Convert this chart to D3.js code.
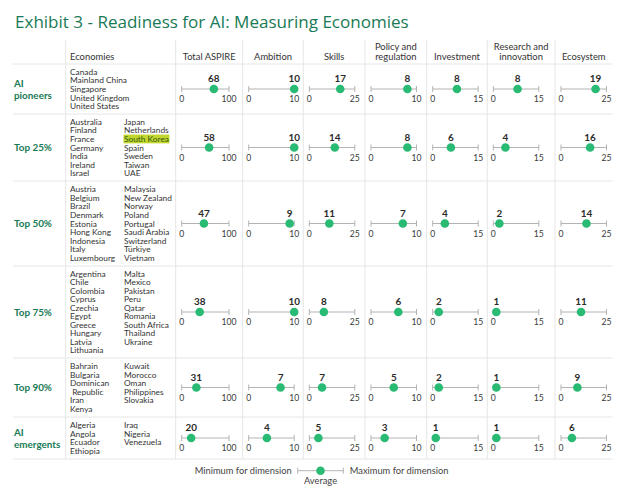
<!DOCTYPE html>
<html>
<head>
<meta charset="utf-8">
<script src="https://cdn.jsdelivr.net/npm/d3@7"></script>
<style>
  html, body { margin: 0; padding: 0; background: #fff; }
  svg { display: block; font-family: Lato, "Open Sans", sans-serif; }
</style>
</head>
<body>
<svg id="chart" width="628" height="486"></svg>
<script>
// ---------------- DATA ----------------
const titleText = "Exhibit 3 - Readiness for AI: Measuring Economies";
const groupLabels = [["AI", "pioneers"], ["Top 25%"], ["Top 50%"], ["Top 75%"], ["Top 90%"], ["AI", "emergents"]];
const economiesCol1 = [
  ["Canada", "Mainland China", "Singapore", "United Kingdom", "United States"],
  ["Australia", "Finland", "France", "Germany", "India", "Ireland", "Israel"],
  ["Austria", "Belgium", "Brazil", "Denmark", "Estonia", "Hong Kong", "Indonesia", "Italy", "Luxembourg"],
  ["Argentina", "Chile", "Colombia", "Cyprus", "Czechia", "Egypt", "Greece", "Hungary", "Latvia", "Lithuania"],
  ["Bahrain", "Bulgaria", "Dominican", "\u00a0Republic", "Iran", "Kenya"],
  ["Algeria", "Angola", "Ecuador", "Ethiopia"]
];
const economiesCol2 = [
  [],
  ["Japan", "Netherlands", "South Korea", "Spain", "Sweden", "Taiwan", "UAE"],
  ["Malaysia", "New Zealand", "Norway", "Poland", "Portugal", "Saudi Arabia", "Switzerland", "Türkiye", "Vietnam"],
  ["Malta", "Mexico", "Pakistan", "Peru", "Qatar", "Romania", "South Africa", "Thailand", "Ukraine"],
  ["Kuwait", "Morocco", "Oman", "Philippines", "Slovakia"],
  ["Iraq", "Nigeria", "Venezuela"]
];
const highlighted = ["South Korea"];
const dimensions = [["Total ASPIRE"], ["Ambition"], ["Skills"], ["Policy and", "regulation"], ["Investment"], ["Research and", "innovation"], ["Ecosystem"]];
const dimMax = [100, 10, 25, 10, 15, 15, 25];
// average score per group, in dimension column order
const pioneersValues  = [68, 10, 17, 8, 8, 8, 19];
const top25Values     = [58, 10, 14, 8, 6, 4, 16];
const top50Values     = [47, 9, 11, 7, 4, 2, 14];
const top75Values     = [38, 10, 8, 6, 2, 1, 11];
const top90Values     = [31, 7, 7, 5, 2, 1, 9];
const emergentsValues = [20, 4, 5, 3, 1, 1, 6];
const groupValues = [pioneersValues, top25Values, top50Values, top75Values, top90Values, emergentsValues];
const legendLabels = ["Minimum for dimension", "Maximum for dimension", "Average"];

// ---------------- STYLE / LAYOUT ----------------
const C = {
  green: "#29BA74", dark: "#197A56", text: "#333333", grid: "#e6e6e6",
  axis: "#b3b3b3", hiBg: "#c3d62e", hiText: "#2f5a17"
};
const FONT = 'Lato, "Open Sans", sans-serif';
const TFONT = '"Open Sans", "Noto Sans", sans-serif';
const svg = d3.select("#chart");

// font size that makes a sample text reach its width in the reference
function fit(sample, weight, target, fam) {
  const t = svg.append("text").attr("font-size", 100).attr("font-weight", weight)
    .attr("font-family", fam || FONT).text(sample);
  const w = t.node().getComputedTextLength();
  t.remove();
  return 100 * target / w;
}
const fsTitle = fit(titleText, 400, 394, TFONT);
const fsHead = fit("Total ASPIRE", 400, 53);
const fsEcon = fit("Mainland China", 400, 57);
const fsGroup = fit("pioneers", 700, 38);
const fsTick = fit("100", 400, 15);
const fsVal = fit("68", 700, 11.5);
const fsLeg = fit("Minimum for dimension", 400, 97);

const colLines = [65.7, 175.7, 242.7, 303.3, 365, 426.7, 487.3, 555];
const dimLeft = colLines.slice(1);
const rightEdge = 612.5, leftEdge = 13;
const rowLines = [64, 114, 181, 266, 358, 417, 459];
const lineH = 8.55;

function txt(g, x, y, s, size, opts = {}) {
  return g.append("text")
    .attr("x", x).attr("y", y + size * 0.36)
    .attr("font-size", size)
    .attr("font-family", opts.family || FONT)
    .attr("font-weight", opts.weight || 400)
    .attr("fill", opts.fill || C.text)
    .attr("text-anchor", opts.anchor || "start")
    .text(s);
}

// title
txt(svg, 15, 22, titleText, fsTitle, { fill: C.dark, family: TFONT });

// grid
const grid = svg.append("g").attr("stroke", C.grid).attr("stroke-width", 1);
colLines.forEach(x => grid.append("line").attr("x1", x).attr("x2", x).attr("y1", 40).attr("y2", rowLines[rowLines.length - 1]));
rowLines.forEach(y => grid.append("line").attr("x1", leftEdge).attr("x2", rightEdge).attr("y1", y).attr("y2", y));

// headers
txt(svg, 70, 56.7, "Economies", fsHead);
dimensions.forEach((lines, i) => {
  const right = i < dimLeft.length - 1 ? dimLeft[i + 1] : rightEdge;
  const cx = (dimLeft[i] + right) / 2;
  if (lines.length === 1) txt(svg, cx, 56.5, lines[0], fsHead, { anchor: "middle" });
  else lines.forEach((l, k) => txt(svg, cx, 46.8 + k * 10, l, fsHead, { anchor: "middle" }));
});

// scales per dimension
const scales = dimensions.map((d, i) => {
  const x0 = dimLeft[i] + 6;
  const len = i === 0 ? 47.3 : 45.5;
  return d3.scaleLinear().domain([0, dimMax[i]]).range([x0, x0 + len]);
});

function drawAxis(g, scale, y, tickLabels) {
  const [a, b] = scale.range();
  g.append("line").attr("x1", a).attr("x2", b).attr("y1", y).attr("y2", y)
    .attr("stroke", C.axis).attr("stroke-width", 1);
  scale.domain().forEach(v => {
    g.append("line").attr("x1", scale(v)).attr("x2", scale(v)).attr("y1", y - 3).attr("y2", y + 3)
      .attr("stroke", C.axis).attr("stroke-width", 1);
    if (tickLabels) txt(g, scale(v), y + 10.3, d3.format("d")(v), fsTick, { anchor: "middle", fill: "#3a3a3a" });
  });
}

// rows
groupValues.forEach((vals, r) => {
  const cy = (rowLines[r] + rowLines[r + 1]) / 2;
  const g = svg.append("g");
  const gl = groupLabels[r];
  gl.forEach((l, k) => txt(g, 14, cy + (k - (gl.length - 1) / 2) * 12, l, fsGroup, { weight: 700, fill: C.dark }));
  const n = Math.max(economiesCol1[r].length, economiesCol2[r].length);
  const top = cy - (n - 1) / 2 * lineH;
  [[economiesCol1[r], 70], [economiesCol2[r], 124]].forEach(([list, x]) => {
    list.forEach((name, k) => {
      const y = top + k * lineH;
      if (highlighted.includes(name)) {
        const t = txt(g, x, y, name, fsEcon, { fill: C.hiText });
        const bb = t.node().getBBox();
        g.insert("rect", () => t.node()).attr("x", bb.x - 0.5).attr("y", y - 4.4).attr("width", bb.width + 1).attr("height", 8.8).attr("fill", C.hiBg);
      } else {
        txt(g, x, y, name, fsEcon);
      }
    });
  });
  vals.forEach((v, i) => {
    const s = scales[i];
    drawAxis(g, s, cy, true);
    g.append("circle").attr("cx", s(v)).attr("cy", cy).attr("r", 4.3).attr("fill", C.green);
    txt(g, s(v), cy - 10.3, d3.format("d")(v), fsVal, { anchor: "middle", weight: 700, fill: "#2b2b2b" });
  });
});

// legend
const lg = svg.append("g");
const legScale = d3.scaleLinear().domain([0, 1]).range([297.7, 343.3]);
const ly = 470.7;
drawAxis(lg, legScale, ly, false);
lg.append("circle").attr("cx", legScale(0.5)).attr("cy", ly).attr("r", 4.3).attr("fill", C.green);
txt(lg, legScale(0) - 6, ly, legendLabels[0], fsLeg, { anchor: "end", fill: "#444" });
txt(lg, legScale(1) + 6.5, ly, legendLabels[1], fsLeg, { fill: "#444" });
txt(lg, legScale(0.5), ly + 9.8, legendLabels[2], fsLeg, { anchor: "middle", fill: "#444" });
</script>
</body>
</html>
